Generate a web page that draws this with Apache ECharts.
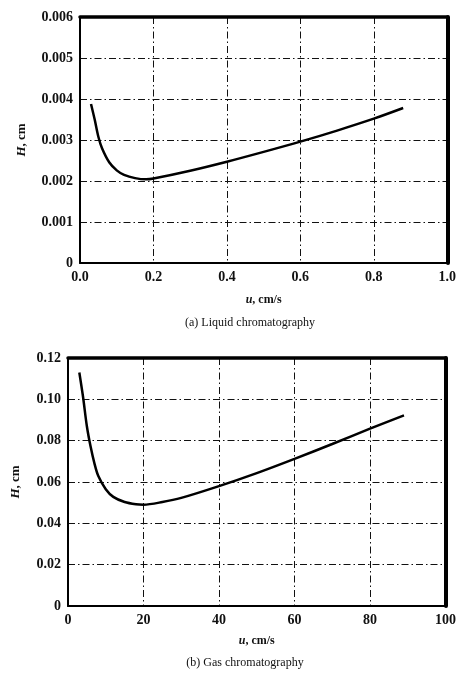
<!DOCTYPE html>
<html>
<head>
<meta charset="utf-8">
<script src="https://cdn.jsdelivr.net/npm/echarts@6/dist/echarts.min.js"></script>
<style>
  html, body { margin: 0; padding: 0; background: #fff; }
  #chart { width: 459px; height: 676px; }
</style>
</head>
<body>
<div id="chart"></div>
<script>
// (a) liquid chromatography, u in cm/s, H in cm
const liquidU = [0.03, 0.04, 0.05, 0.06, 0.08, 0.10, 0.12, 0.15, 0.18, 0.20, 0.30, 0.40, 0.50, 0.60, 0.70, 0.80, 0.88];
const liquidH = [0.00388, 0.0035, 0.00308, 0.0028, 0.00245, 0.00226, 0.00215, 0.00207, 0.00204, 0.00206, 0.00225, 0.00247, 0.00271, 0.00296, 0.00323, 0.00352, 0.00378];

// (b) gas chromatography
const gasU = [3, 4, 5, 6, 7, 8, 10, 12, 15, 18, 20, 25, 30, 40, 50, 60, 70, 80, 89];
const gasH = [0.113, 0.101, 0.087, 0.077, 0.069, 0.063, 0.0565, 0.0528, 0.0503, 0.0492, 0.049, 0.0503, 0.0523, 0.058, 0.0643, 0.0712, 0.0784, 0.0858, 0.0922];

const captions = ['(a) Liquid chromatography', '(b) Gas chromatography'];

const serif = '"Liberation Serif", "DejaVu Serif", serif';
const gridLine = { show: true, lineStyle: { color: '#111', width: 1, type: [7, 3, 1.5, 3] } };
const tickFont = { fontFamily: serif, fontSize: 14, fontWeight: 'bold', color: '#111' };

function toPairs(xs, ys) {
  return xs.map((x, i) => [x, ys[i]]);
}

function mainX(gridIndex, max, interval, digits, nameGap) {
  return {
    gridIndex, type: 'value', min: 0, max, interval,
    name: '{i|u}, cm/s', nameLocation: 'middle', nameGap,
    nameTextStyle: { fontFamily: serif, fontSize: 12, fontWeight: 'bold', color: '#111',
      rich: { i: { fontFamily: serif, fontSize: 12, fontWeight: 'bold', fontStyle: 'italic', color: '#111' } } },
    axisLine: { show: true, onZero: false, lineStyle: { color: '#000', width: 2 } },
    axisTick: { show: false },
    axisLabel: Object.assign({ margin: 7, formatter: v => digits ? v.toFixed(digits) : String(v) }, tickFont),
    splitLine: gridLine
  };
}

function mainY(gridIndex, max, interval, digits, nameGap) {
  return {
    gridIndex, type: 'value', min: 0, max, interval,
    name: '{i|H}, cm', nameLocation: 'middle', nameGap,
    nameTextStyle: { fontFamily: serif, fontSize: 13, fontWeight: 'bold', color: '#111',
      rich: { i: { fontFamily: serif, fontSize: 13, fontWeight: 'bold', fontStyle: 'italic', color: '#111' } } },
    axisLine: { show: true, onZero: false, lineStyle: { color: '#000', width: 2 } },
    axisTick: { show: false },
    axisLabel: Object.assign({ margin: 7, formatter: v => v === 0 ? '0' : v.toFixed(digits) }, tickFont),
    splitLine: gridLine
  };
}

// frame edges (top and right are printed heavier)
function edgeX(gridIndex, max) {
  return { gridIndex, type: 'value', min: 0, max, position: 'top',
    axisLine: { show: true, onZero: false, lineStyle: { color: '#000', width: 3.5 } },
    axisTick: { show: false }, axisLabel: { show: false }, splitLine: { show: false } };
}
function edgeY(gridIndex, max) {
  return { gridIndex, type: 'value', min: 0, max, position: 'right',
    axisLine: { show: true, onZero: false, lineStyle: { color: '#000', width: 4 } },
    axisTick: { show: false }, axisLabel: { show: false }, splitLine: { show: false } };
}

const chart = echarts.init(document.getElementById('chart'), null, { renderer: 'canvas' });

chart.setOption({
  backgroundColor: '#fff',
  animation: false,
  title: [
    { text: captions[0], left: 245, top: 312, textAlign: 'center',
      textStyle: { fontFamily: serif, fontSize: 12, fontWeight: 'normal', color: '#111' } },
    { text: captions[1], left: 240, top: 652, textAlign: 'center',
      textStyle: { fontFamily: serif, fontSize: 12, fontWeight: 'normal', color: '#111' } }
  ],
  grid: [
    { left: 80, top: 17, width: 368, height: 246 },
    { left: 68, top: 358, width: 378, height: 248 }
  ],
  xAxis: [
    mainX(0, 1.0, 0.2, 1, 31),
    mainX(1, 100, 20, 0, 29),
    edgeX(0, 1.0),
    edgeX(1, 100)
  ],
  yAxis: [
    mainY(0, 0.006, 0.001, 3, 52),
    mainY(1, 0.12, 0.02, 2, 46),
    edgeY(0, 0.006),
    edgeY(1, 0.12)
  ],
  series: [
    { type: 'line', xAxisIndex: 0, yAxisIndex: 0, data: toPairs(liquidU, liquidH),
      smooth: 0.3, showSymbol: false, lineStyle: { color: '#000', width: 2.5 } },
    { type: 'line', xAxisIndex: 1, yAxisIndex: 1, data: toPairs(gasU, gasH),
      smooth: 0.3, showSymbol: false, lineStyle: { color: '#000', width: 2.5 } }
  ]
});
</script>
</body>
</html>
